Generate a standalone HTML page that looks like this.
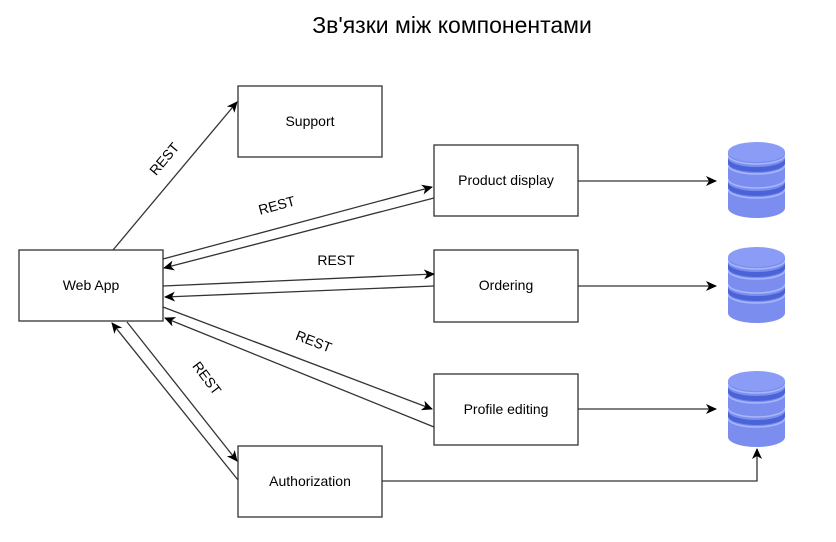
<!DOCTYPE html>
<html><head><meta charset="utf-8"><style>body{margin:0;background:#fff}svg{display:block}</style></head>
<body>
<svg width="836" height="542" viewBox="0 0 836 542" xmlns="http://www.w3.org/2000/svg" font-family="Liberation Sans, sans-serif">
<defs>
<marker id="a" markerWidth="12" markerHeight="10" refX="10" refY="5" orient="auto" markerUnits="userSpaceOnUse">
<path d="M0,0 L11,5 L0,10 L3,5 Z" fill="#000"/></marker>
<clipPath id="dbc"><path d="M0,12 L0,68 A28.5,10 0 0 0 57,68 L57,12 Z"/></clipPath>
<g id="db">
<path d="M0,12 L0,68 A28.5,10 0 0 0 57,68 L57,12 Z" fill="#7b8ef0"/>
<ellipse cx="28.5" cy="12" rx="28.5" ry="10" fill="#8a9cf5"/>
<g clip-path="url(#dbc)">
<path d="M0,15 A28.5,9 0 0 0 57,15" fill="none" stroke="#a9b7fa" stroke-width="1.5"/>
<path d="M0,18 A28.5,9 0 0 0 57,18 L57,23 A28.5,9 0 0 1 0,23 Z" fill="#4a63d8"/>
<path d="M0,25 A28.5,9 0 0 0 57,25" fill="none" stroke="#a9b7fa" stroke-width="1.5"/>
<path d="M0,39 A28.5,9 0 0 0 57,39" fill="none" stroke="#a9b7fa" stroke-width="1.5"/>
<path d="M0,42 A28.5,9 0 0 0 57,42 L57,47 A28.5,9 0 0 1 0,47 Z" fill="#4a63d8"/>
<path d="M0,49 A28.5,9 0 0 0 57,49" fill="none" stroke="#a9b7fa" stroke-width="1.5"/>
</g>
</g>
</defs>
<text x="452" y="33" font-size="23" text-anchor="middle" fill="#000">Зв'язки між компонентами</text>
<g fill="#fff" stroke="#333" stroke-width="1.3">
<rect x="19" y="250" width="144" height="71"/>
<rect x="238" y="86" width="144" height="71"/>
<rect x="434" y="145" width="144" height="71"/>
<rect x="434" y="250" width="144" height="72"/>
<rect x="434" y="374" width="144" height="71"/>
<rect x="238" y="446" width="144" height="71"/>
</g>
<g font-size="14" text-anchor="middle" fill="#000">
<text x="91" y="290">Web App</text>
<text x="310" y="126">Support</text>
<text x="506" y="185">Product display</text>
<text x="506" y="290">Ordering</text>
<text x="506" y="414">Profile editing</text>
<text x="310" y="486">Authorization</text>
</g>
<g stroke="#333" stroke-width="1.3" fill="none" marker-end="url(#a)">
<line x1="113" y1="250" x2="237" y2="102"/>
<line x1="163" y1="259" x2="432" y2="187"/>
<line x1="434" y1="198" x2="164" y2="268"/>
<line x1="163" y1="286" x2="434" y2="274"/>
<line x1="434" y1="286" x2="165" y2="297"/>
<line x1="163" y1="307" x2="432" y2="409"/>
<line x1="434" y1="427" x2="165" y2="318"/>
<line x1="127" y1="322" x2="237" y2="461"/>
<line x1="238" y1="480" x2="112" y2="323"/>
<line x1="578" y1="181" x2="716" y2="181"/>
<line x1="578" y1="286" x2="716" y2="286"/>
<line x1="578" y1="409" x2="716" y2="409"/>
<polyline points="382,481 757,481 757,449"/>
</g>
<g font-size="14" fill="#000" text-anchor="middle">
<text transform="translate(168,162) rotate(-50)">REST</text>
<text transform="translate(278,210) rotate(-15)">REST</text>
<text x="336" y="265">REST</text>
<text transform="translate(312,346) rotate(21)">REST</text>
<text transform="translate(203,381) rotate(53)">REST</text>
</g>
<use href="#db" x="728" y="140"/>
<use href="#db" x="728" y="245"/>
<use href="#db" x="728" y="369"/>
</svg>
</body></html>
